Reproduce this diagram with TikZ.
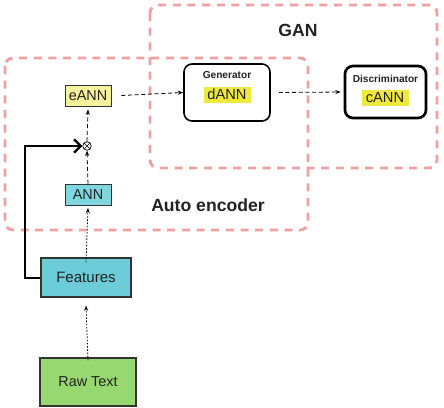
\documentclass[tikz,border=0pt]{standalone}
\usepackage{fontspec}
\setmainfont{Liberation Sans}
\usetikzlibrary{arrows.meta}
\definecolor{pinkdash}{HTML}{F0A0A0}
\definecolor{eannfill}{HTML}{F6F19C}
\definecolor{hlyellow}{HTML}{EFE83E}
\definecolor{annfill}{HTML}{7FD6DE}
\definecolor{featfill}{HTML}{6CCCD8}
\definecolor{rawfill}{HTML}{98D870}
\definecolor{txt}{HTML}{222222}
\newlength{\pxu}
\setlength{\pxu}{0.75pt}
\tikzset{
  groupbox/.style={draw=pinkdash, line width=2.2pt, dash pattern=on 6pt off 5pt, rounded corners=6pt},
  smallbox/.style={draw=black!80, line width=0.6pt, minimum width=46\pxu, minimum height=21\pxu, inner sep=0pt, font=\fontsize{10.8}{12}\selectfont, text=txt},
  bigbox/.style={draw=black!80, line width=0.8pt, inner sep=0pt, text=txt},
  netbox/.style={draw=black, rounded corners=6pt, inner sep=0pt},
  hl/.style={fill=hlyellow, inner sep=0pt, minimum width=47\pxu, minimum height=16\pxu, font=\fontsize{11}{12}\selectfont, text=txt},
  dasharrow/.style={-{Stealth[length=4pt,width=3pt]}, line width=0.6pt, dash pattern=on 3pt off 2pt},
  dotarrow/.style={-{Stealth[length=4pt,width=3pt]}, line width=0.6pt, dash pattern=on 1.2pt off 1.2pt},
  grouplabel/.style={font=\bfseries\fontsize{13.2}{15}\selectfont, text=txt},
  nettitle/.style={font=\bfseries\fontsize{7.6}{9}\selectfont, text=txt},
}
\begin{document}
\begin{tikzpicture}[x=0.75pt,y=-0.75pt]
\useasboundingbox (0,0) rectangle (444,408);
% group boxes
\draw[groupbox] (150,5) rectangle (437,168);
\draw[groupbox] (5,58) rectangle (308,230);
\node[grouplabel] (gan) at (298,30) {GAN};
\node[grouplabel] (ae) at (208,205) {Auto encoder};
% nodes
\node[smallbox, fill=eannfill] (eann) at (88,95.5) {eANN};
\node[smallbox, fill=annfill] (ann) at (88,195) {ANN};
\node[bigbox, fill=featfill, minimum width=90\pxu, minimum height=39\pxu, font=\fontsize{11.3}{13}\selectfont] (feat) at (86,277.5) {Features};
\node[bigbox, fill=rawfill, minimum width=96\pxu, minimum height=48\pxu, font=\fontsize{10.8}{13}\selectfont] (raw) at (88,382) {Raw Text};
\node[netbox, line width=1.2pt, minimum width=86\pxu, minimum height=57\pxu] (gen) at (227,92.5) {};
\node[nettitle] (gent) at (227,75) {Generator};
\node[hl] (dann) at (227,94.5) {dANN};
\node[netbox, line width=2pt, minimum width=81\pxu, minimum height=52\pxu] (disc) at (385.5,92) {};
\node[nettitle] (disct) at (385.5,79) {Discriminator};
\node[hl] (cann) at (385,97.5) {cANN};
% otimes
\node[circle, draw=black, line width=0.5pt, inner sep=0pt, minimum size=8.5\pxu] (mul) at (87,146) {};
\draw[line width=0.5pt] (mul.north east) -- (mul.south west) (mul.north west) -- (mul.south east);
% connectors
\coordinate (corner1) at (25,146);
\coordinate (corner2) at (25,278);
\draw[line width=1.3pt, -{Straight Barb[length=5pt,width=10pt,line width=1.8pt]}] (feat.west |- corner2) -- (corner2) -- (corner1) -- (mul.west);
\draw[dasharrow] (ann.north) -- (mul.south);
\draw[dasharrow] (mul.north) -- ([yshift=-3\pxu]eann.south);
\draw[dasharrow] ([xshift=10\pxu]eann.east) -- (gen.west);
\draw[dasharrow] ([xshift=8\pxu]gen.east) -- ([xshift=-3\pxu]disc.west);
\draw[dotarrow] ([yshift=-5\pxu]feat.north) -- ([yshift=-2\pxu]ann.south);
\draw[dotarrow] ([yshift=-3\pxu]raw.north) -- ([yshift=-8\pxu]feat.south);
\end{tikzpicture}
\end{document}
